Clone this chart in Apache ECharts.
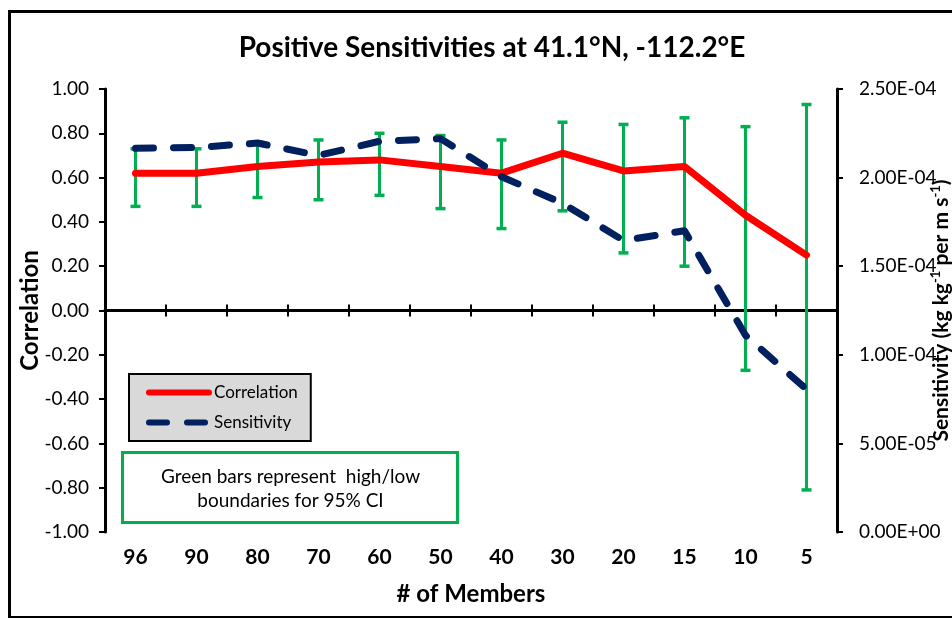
<!DOCTYPE html>
<html>
<head>
<meta charset="utf-8">
<script src="https://cdn.jsdelivr.net/npm/echarts@6/dist/echarts.min.js"></script>
<style>
html,body{margin:0;padding:0;background:#fff;}
#wrap{position:relative;width:952px;height:618px;overflow:hidden;}
#chart{width:952px;height:618px;}
#frame{position:absolute;left:8px;top:10px;width:960px;height:603px;border:3px solid #000;pointer-events:none;}
</style>
</head>
<body>
<div id="wrap"><div id="chart"></div><div id="frame"></div></div>
<script>
var categories = ['96','90','80','70','60','50','40','30','20','15','10','5'];
var correlation = [0.62,0.62,0.65,0.67,0.68,0.65,0.62,0.71,0.63,0.65,0.43,0.25];
var sensitivity = [2.165e-4,2.17e-4,2.195e-4,2.125e-4,2.205e-4,2.22e-4,2.005e-4,1.855e-4,1.645e-4,1.70e-4,1.11e-4,0.805e-4];
var ciLow  = [0.47,0.47,0.51,0.50,0.52,0.46,0.37,0.45,0.26,0.20,-0.27,-0.81];
var ciHigh = [0.73,0.73,0.76,0.77,0.80,0.79,0.77,0.85,0.84,0.87,0.83,0.93];
var leftTicks = {min:-1, max:1, interval:0.2};
var rightTicks = {min:0, max:2.5e-4, interval:5e-5};

var ciData = categories.map(function(c,i){ return [i, ciLow[i], ciHigh[i]]; });

function sci(v){
  if (Math.abs(v) < 1e-12) return '0.00E+00';
  var e = Math.floor(Math.log10(Math.abs(v)) + 1e-9);
  var m = v / Math.pow(10, e);
  var es = (e < 0 ? '-' : '+') + (Math.abs(e) < 10 ? '0' : '') + Math.abs(e);
  return m.toFixed(2) + 'E' + es;
}

var F = 'Lato, "Open Sans", sans-serif';
var chart = echarts.init(document.getElementById('chart'), null, {renderer:'canvas'});
var option = {
  backgroundColor:'#fff',
  animation:false,
  textStyle:{fontFamily:F, color:'#000'},
  title:{
    text:'Positive Sensitivities at 41.1°N, -112.2°E',
    left:487, top:29, textAlign:'center',
    textStyle:{fontFamily:F, fontWeight:'bold', fontSize:28, color:'#000'}
  },
  grid:{left:105, right:115, top:89, bottom:86, containLabel:false, outerBoundsMode:'none'},
  legend:{
    left:129, top:374, orient:'vertical',
    backgroundColor:'#d9d9d9', borderColor:'#000', borderWidth:2, borderRadius:0,
    padding:[10,13,10,17], itemGap:13, itemWidth:60, itemHeight:14,
    textStyle:{fontFamily:F, fontSize:17, color:'#000'},
    itemStyle:{opacity:0},
    lineStyle:{width:6, cap:'round'},
    data:['Correlation','Sensitivity']
  },
  xAxis:[
    {
      type:'category', data:categories, position:'bottom',
      axisLine:{show:false, onZero:false}, axisTick:{show:false},
      axisLabel:{fontFamily:F, fontWeight:'bold', fontSize:21, color:'#000', margin:15},
      splitLine:{show:false},
      name:'# of Members', nameLocation:'middle', nameGap:50,
      nameTextStyle:{fontFamily:F, fontWeight:'bold', fontSize:24, color:'#000'}
    },
    {
      type:'category', data:categories, position:'bottom',
      axisLine:{show:true, onZero:true, onZeroAxisIndex:0, lineStyle:{color:'#000', width:3}},
      axisTick:{show:true, inside:false, length:6, lineStyle:{color:'#000', width:2}},
      axisLabel:{show:false}, splitLine:{show:false}
    },
    {
      type:'category', data:categories, position:'bottom',
      axisLine:{show:true, onZero:true, onZeroAxisIndex:0, lineStyle:{color:'#000', width:3}},
      axisTick:{show:true, inside:true, length:6, lineStyle:{color:'#000', width:2}},
      axisLabel:{show:false}, splitLine:{show:false}
    }
  ],
  yAxis:[
    {
      type:'value', min:leftTicks.min, max:leftTicks.max, interval:leftTicks.interval,
      position:'left',
      axisLine:{show:true, onZero:false, lineStyle:{color:'#000', width:3}},
      axisTick:{show:true, length:6, lineStyle:{color:'#000', width:2}},
      axisLabel:{fontFamily:F, fontSize:19, color:'#000', margin:16,
        formatter:function(v){ return v.toFixed(2); }},
      splitLine:{show:false},
      name:'Correlation', nameLocation:'middle', nameGap:63, nameRotate:90, nameMoveOverlap:false,
      nameTextStyle:{fontFamily:F, fontWeight:'bold', fontSize:24, color:'#000'}
    },
    {
      type:'value', min:rightTicks.min, max:rightTicks.max, interval:rightTicks.interval,
      position:'right',
      axisLine:{show:true, onZero:false, lineStyle:{color:'#000', width:3}},
      axisTick:{show:true, length:6, lineStyle:{color:'#000', width:2}},
      axisLabel:{fontFamily:F, fontSize:19, color:'#000', margin:22, formatter:sci},
      splitLine:{show:false},
      name:'Sensitivity (kg kg{s|-1} per m s{s|-1})', nameLocation:'middle', nameGap:92, nameRotate:90, nameMoveOverlap:false,
      nameTextStyle:{fontFamily:F, fontWeight:'bold', fontSize:21, color:'#000', lineHeight:25,
        rich:{s:{fontFamily:F, fontWeight:'bold', fontSize:13, color:'#000', verticalAlign:'top', lineHeight:15}}}
    }
  ],
  graphic:[
    {
      type:'group', left:121, top:451,
      children:[
        {type:'rect', shape:{x:0,y:0,width:335,height:70},
         style:{fill:'#fff', stroke:'#00b050', lineWidth:3}},
        {type:'text', x:168, y:36,
         style:{text:'Green bars represent  high/low\nboundaries for 95% CI', fill:'#000',
           font:'19px Lato', align:'center', verticalAlign:'middle', lineHeight:24}}
      ]
    }
  ],
  series:[
    {
      name:'CI', type:'custom', xAxisIndex:0, yAxisIndex:0, z:1,
      data:ciData, encode:{x:0, y:[1,2]},
      renderItem:function(params, api){
        var x = api.value(0);
        var pH = api.coord([x, api.value(2)]);
        var pL = api.coord([x, api.value(1)]);
        var hw = 5, c = '#00b050';
        return {type:'group', children:[
          {type:'line', shape:{x1:pH[0],y1:pH[1],x2:pL[0],y2:pL[1]}, style:{stroke:c, lineWidth:3}},
          {type:'line', shape:{x1:pH[0]-hw,y1:pH[1],x2:pH[0]+hw,y2:pH[1]}, style:{stroke:c, lineWidth:3.5}},
          {type:'line', shape:{x1:pL[0]-hw,y1:pL[1],x2:pL[0]+hw,y2:pL[1]}, style:{stroke:c, lineWidth:3.5}}
        ]};
      }
    },
    {
      name:'Correlation', type:'line', xAxisIndex:0, yAxisIndex:0, z:3,
      data:correlation, symbol:'none', showSymbol:false,
      lineStyle:{color:'#ff0000', width:7, cap:'round', join:'round'},
      itemStyle:{color:'#ff0000'}
    },
    {
      name:'Sensitivity', type:'line', xAxisIndex:0, yAxisIndex:1, z:4,
      data:sensitivity, symbol:'none', showSymbol:false,
      lineStyle:{color:'#002060', width:7, type:[18,20], cap:'round', join:'round'},
      itemStyle:{color:'#002060'}
    }
  ]
};
chart.setOption(option);
</script>
</body>
</html>
